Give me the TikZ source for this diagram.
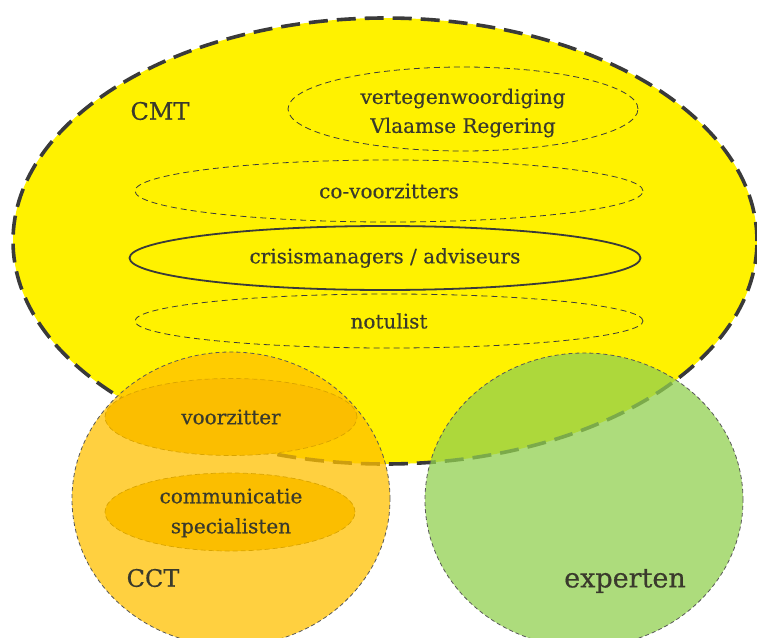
\documentclass[tikz,border=0pt]{standalone}
\usepackage{fontspec}
\setmainfont{DejaVu Serif}[FakeBold=0.5]
\usetikzlibrary{shapes.geometric}
\definecolor{cmtyellow}{HTML}{FFF200}
\definecolor{cctorange}{HTML}{FFC000}
\definecolor{innerorange}{HTML}{FBBE00}
\definecolor{innerorangeline}{HTML}{D9A400}
\definecolor{expgreen}{HTML}{92D050}
\definecolor{linegray}{HTML}{3A3A3A}
\definecolor{textgray}{HTML}{3A3A2C}
\tikzset{
  cmtline/.style={draw=linegray, line width=0.8pt, dash pattern=on 6pt off 4pt},
  innerell/.style={ellipse, inner sep=0pt, cmtline, text=textgray, align=center,
    font=\fontsize{20}{29}\selectfont},
  cctinner/.style={ellipse, inner sep=0pt, fill=innerorange, draw=innerorangeline,
    line width=0.7pt, dash pattern=on 5pt off 3pt, text=textgray, align=center,
    font=\fontsize{20}{30}\selectfont},
  bigcircle/.style={ellipse, inner sep=0pt, minimum width=318pt, minimum height=294pt,
    fill opacity=0.75, draw opacity=1, draw=linegray!85, line width=0.8pt,
    dash pattern=on 4pt off 3pt},
  grouplabel/.style={text=textgray, inner sep=0pt},
  twoline/.style={text=textgray, align=center, inner sep=0pt},
}
\begin{document}
\begin{tikzpicture}[x=1pt,y=-1pt]
\useasboundingbox (0,0) rectangle (757,637);
\clip (0,0) rectangle (757,637);
% CMT
\node[ellipse, inner sep=0pt, minimum width=744pt, minimum height=446pt,
      fill=cmtyellow, draw=linegray, line width=3.6pt,
      dash pattern=on 19pt off 9pt] (cmt) at (385,241) {};
\node[grouplabel, font=\fontsize{24}{28}\selectfont] (cmtlabel) at (160,111) {CMT};
\node[innerell, minimum width=350pt, minimum height=84pt] (vert) at (463,109) {};
\node[twoline, font=\fontsize{20}{29}\selectfont] (verttext) at (463,113)
  {vertegenwoordiging\\Vlaamse Regering};
\node[innerell, minimum width=508pt, minimum height=62pt] (covz) at (389,191) {co-voorzitters};
\node[innerell, minimum width=511pt, minimum height=64pt, draw=linegray, solid,
      line width=1.8pt] (crisis) at (385,258) {crisismanagers / adviseurs};
\node[innerell, minimum width=508pt, minimum height=54pt] (notulist) at (389,321) {notulist};
% CCT
\node[bigcircle, fill=cctorange] (cct) at (231,499) {};
\node[cctinner, minimum width=252pt, minimum height=77pt] (vz) at (231,417) {voorzitter};
\node[cctinner, minimum width=250pt, minimum height=78pt] (comm) at (230,512) {};
\node[twoline, font=\fontsize{20}{30}\selectfont] (commtext) at (231,513)
  {communicatie\\specialisten};
\node[grouplabel, font=\fontsize{24}{28}\selectfont] (cctlabel) at (153,578) {CCT};
% experten
\node[bigcircle, fill=expgreen] (exp) at (584,500) {};
\node[grouplabel, font=\fontsize{27}{32}\selectfont] (explabel) at (625,581) {experten};
\end{tikzpicture}
\end{document}
